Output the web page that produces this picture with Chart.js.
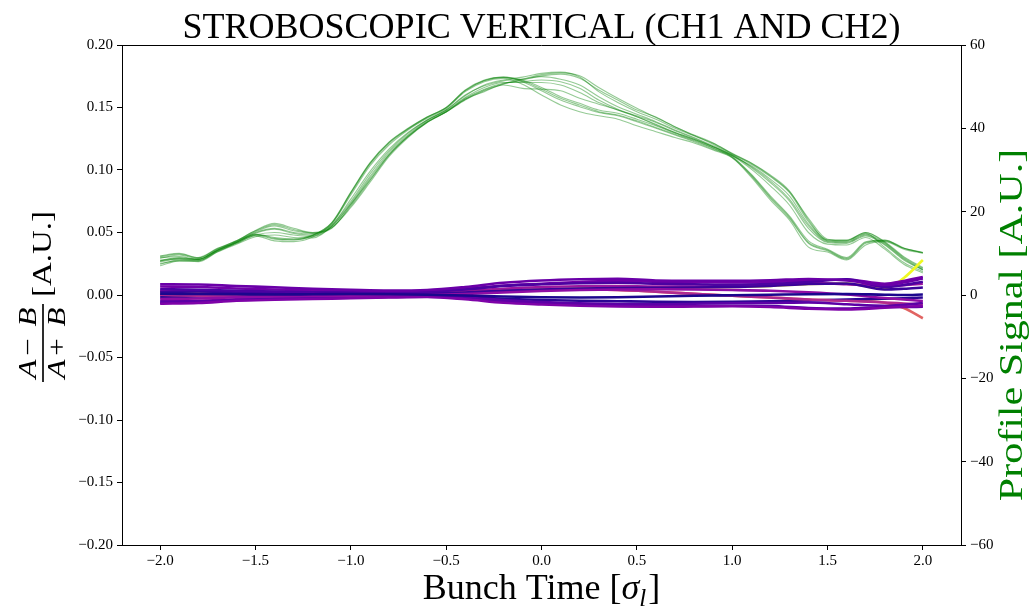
<!DOCTYPE html>
<html>
<head>
<meta charset="utf-8">
<script src="https://cdn.jsdelivr.net/npm/chart.js@4/dist/chart.umd.min.js"></script>
<style>
  html, body { margin: 0; padding: 0; background: #fff; }
  #wrap { width: 1032px; height: 607px; }
</style>
</head>
<body>
<div id="wrap"><canvas id="strobo"></canvas></div>
<script>
const SERIF = '"Liberation Serif", "Times New Roman", serif';

// bunch time grids (sigma_l)
const timeFine = [-2.0, -1.9, -1.8, -1.7, -1.6, -1.5, -1.4, -1.3, -1.2, -1.1, -1.0, -0.9, -0.8, -0.7, -0.6, -0.5, -0.4, -0.3, -0.2, -0.1,
  0.0, 0.1, 0.2, 0.3, 0.4, 0.5, 0.6, 0.7, 0.8, 0.9, 1.0, 1.1, 1.2, 1.3, 1.4, 1.5, 1.6, 1.7, 1.8, 1.9, 2.0];
const timeCoarse = [-2.0, -1.8, -1.6, -1.4, -1.2, -1.0, -0.8, -0.6, -0.4, -0.2, 0.0, 0.2, 0.4, 0.6, 0.8, 1.0, 1.2, 1.4, 1.6, 1.8, 1.9, 2.0];

const timeTicks = [-2.0, -1.5, -1.0, -0.5, 0.0, 0.5, 1.0, 1.5, 2.0];
const deltaTicks = [-0.20, -0.15, -0.10, -0.05, 0.00, 0.05, 0.10, 0.15, 0.20];
const profileTicks = [-60, -40, -20, 0, 20, 40, 60];

// profile signal traces (right axis)
const profileA1 = [8.0, 8.6, 8.4, 10.6, 12.6, 14.4, 13.4, 13.2, 14.2, 17.2, 24.4, 31.4, 36.4, 39.8, 42.6, 44.9, 49.0, 51.4, 52.2, 51.2, 49.0, 46.8, 45.2, 43.8, 43.0, 41.6, 40.0, 38.4, 36.8, 35.0, 33.0, 28.6, 23.2, 18.4, 12.4, 10.6, 8.6, 12.4, 13.0, 11.2, 10.2];
const profileA2 = [7.6, 8.2, 8.2, 10.4, 12.4, 14.2, 13.0, 12.8, 13.9, 17.0, 24.0, 31.0, 36.0, 39.6, 42.4, 44.7, 48.8, 51.2, 52.0, 50.6, 48.0, 45.6, 44.0, 43.0, 42.2, 40.6, 39.2, 37.8, 36.5, 34.8, 32.9, 28.3, 22.8, 18.0, 11.5, 10.3, 8.4, 12.0, 12.8, 11.0, 10.0];
const profileA3 = [8.4, 8.8, 8.6, 10.8, 12.7, 14.6, 13.8, 13.5, 14.4, 17.4, 24.7, 31.7, 36.7, 40.0, 42.7, 45.0, 49.2, 51.6, 52.3, 51.6, 49.8, 47.6, 46.0, 44.4, 43.6, 42.2, 40.6, 38.8, 37.2, 35.3, 33.2, 29.0, 23.8, 19.0, 13.0, 11.0, 9.0, 12.8, 13.2, 11.3, 10.2];
const profileA4 = [8.2, 8.7, 8.5, 10.7, 12.6, 14.5, 13.6, 13.3, 14.3, 17.3, 24.6, 31.6, 36.6, 39.9, 42.7, 45.0, 49.1, 51.5, 52.3, 51.4, 49.4, 47.2, 45.6, 44.0, 43.2, 41.8, 40.2, 38.6, 37.0, 35.2, 33.1, 28.8, 23.5, 18.7, 12.6, 10.8, 8.8, 12.6, 13.1, 11.2, 10.1];
const profileB1 = [9.4, 10.0, 9.0, 11.2, 13.0, 15.5, 17.2, 16.0, 15.0, 16.2, 21.0, 27.0, 33.2, 37.8, 41.4, 43.9, 46.8, 49.0, 50.6, 51.6, 52.6, 53.0, 52.0, 49.2, 46.8, 44.4, 42.7, 40.3, 38.4, 36.5, 34.0, 31.7, 28.8, 25.0, 18.0, 13.2, 13.2, 15.0, 12.6, 9.0, 6.4];
const profileB2 = [7.0, 8.2, 8.0, 10.3, 12.2, 14.0, 14.4, 13.8, 13.7, 16.6, 23.0, 29.6, 35.0, 39.0, 42.0, 44.4, 48.0, 50.2, 51.4, 51.8, 52.4, 51.8, 50.4, 47.6, 45.2, 43.4, 41.6, 39.6, 37.8, 35.8, 33.6, 30.6, 27.0, 22.6, 16.0, 12.6, 12.4, 14.2, 12.0, 8.4, 6.0];
const profileB3 = [8.8, 9.6, 8.8, 11.0, 12.9, 15.2, 16.6, 15.4, 14.8, 16.0, 21.6, 28.0, 33.8, 38.2, 41.6, 44.0, 47.2, 49.4, 50.8, 51.2, 51.6, 51.2, 49.6, 46.8, 44.6, 43.0, 41.4, 39.4, 37.6, 35.6, 33.4, 31.0, 27.8, 23.8, 17.0, 13.0, 12.8, 14.6, 12.4, 8.8, 6.2];
const profileB4 = [9.0, 9.2, 8.6, 10.8, 12.8, 15.0, 16.0, 15.0, 14.6, 16.8, 22.4, 29.0, 34.6, 38.8, 42.0, 44.4, 47.8, 50.4, 51.6, 52.3, 53.2, 53.5, 52.3, 48.8, 46.2, 44.0, 42.2, 40.0, 38.2, 36.2, 33.8, 31.4, 28.4, 24.6, 17.6, 13.2, 13.0, 14.8, 11.4, 7.8, 5.6];
const profileB5 = [7.4, 8.4, 8.2, 10.5, 12.4, 14.4, 15.0, 14.4, 14.0, 16.4, 21.8, 27.6, 33.6, 38.0, 41.4, 44.0, 47.0, 48.8, 50.4, 49.6, 49.4, 49.0, 47.2, 45.8, 44.4, 42.8, 41.0, 39.0, 37.4, 35.6, 33.4, 30.2, 26.2, 21.6, 15.0, 12.2, 12.0, 13.8, 11.0, 7.4, 5.3];
const profileB6 = [8.2, 9.0, 8.5, 10.7, 12.6, 14.8, 15.8, 14.8, 14.3, 16.5, 22.0, 28.4, 34.2, 38.4, 41.8, 44.2, 47.4, 49.8, 51.0, 51.0, 51.0, 50.4, 48.6, 46.2, 44.4, 42.8, 40.8, 39.0, 37.4, 35.6, 33.6, 30.8, 27.4, 23.0, 16.6, 12.8, 12.6, 14.4, 12.2, 8.6, 6.0];
const profileB7 = [9.2, 9.8, 8.9, 11.1, 13.0, 15.4, 16.9, 15.7, 14.9, 16.1, 21.3, 27.4, 33.5, 38.0, 41.5, 43.9, 47.0, 49.2, 50.7, 51.8, 52.9, 53.3, 52.6, 49.8, 47.2, 44.8, 42.6, 40.4, 38.3, 36.4, 33.9, 31.6, 28.6, 24.8, 18.4, 13.4, 13.1, 15.0, 12.8, 9.2, 6.6];

// (A-B)/(A+B) traces (left axis)
const delta01 = [0.0010, 0.0008, 0.0006, 0.0004, 0.0006, 0.0008, 0.0006, 0.0002, -0.0004, -0.0012, -0.0018, -0.0020, -0.0018, -0.0012, -0.0006, -0.0002, 0.0002, 0.0006, 0.0008, 0.0002, 0.0000, 0.0004];
const delta02 = [0.0086, 0.0084, 0.0072, 0.0062, 0.0050, 0.0042, 0.0036, 0.0040, 0.0064, 0.0098, 0.0116, 0.0126, 0.0130, 0.0116, 0.0114, 0.0114, 0.0118, 0.0128, 0.0116, 0.0080, 0.0100, 0.0132];
const delta03 = [-0.0070, -0.0064, -0.0046, -0.0038, -0.0032, -0.0026, -0.0020, -0.0016, -0.0034, -0.0062, -0.0076, -0.0086, -0.0092, -0.0094, -0.0092, -0.0090, -0.0096, -0.0110, -0.0116, -0.0102, -0.0094, -0.0088];
const delta04 = [0.0046, 0.0042, 0.0034, 0.0028, 0.0022, 0.0020, 0.0016, 0.0024, 0.0044, 0.0072, 0.0086, 0.0094, 0.0098, 0.0090, 0.0086, 0.0082, 0.0088, 0.0104, 0.0126, 0.0064, 0.0080, 0.0106];
const delta05 = [-0.0032, -0.0028, -0.0018, -0.0012, -0.0008, -0.0006, -0.0004, 0.0000, 0.0008, 0.0020, 0.0032, 0.0040, 0.0044, 0.0046, 0.0044, 0.0040, 0.0034, 0.0022, 0.0004, -0.0024, -0.0036, -0.0048];
const delta06 = [0.0024, 0.0028, 0.0022, 0.0018, 0.0014, 0.0012, 0.0010, 0.0012, 0.0020, 0.0034, 0.0044, 0.0052, 0.0056, 0.0058, 0.0060, 0.0064, 0.0072, 0.0088, 0.0092, 0.0044, 0.0050, 0.0060];
const delta07 = [-0.0050, -0.0046, -0.0034, -0.0026, -0.0022, -0.0018, -0.0012, -0.0010, -0.0020, -0.0040, -0.0056, -0.0066, -0.0072, -0.0074, -0.0070, -0.0066, -0.0064, -0.0060, -0.0074, -0.0086, -0.0078, -0.0064];
const delta08 = [0.0002, -0.0006, -0.0010, -0.0006, 0.0002, 0.0008, 0.0012, 0.0018, 0.0026, 0.0036, 0.0042, 0.0046, 0.0040, 0.0026, 0.0010, -0.0006, -0.0020, -0.0036, -0.0046, -0.0060, -0.0068, -0.0076];
const delta09 = [0.0068, 0.0064, 0.0052, 0.0044, 0.0038, 0.0032, 0.0028, 0.0030, 0.0050, 0.0076, 0.0090, 0.0104, 0.0114, 0.0106, 0.0102, 0.0100, 0.0104, 0.0116, 0.0124, 0.0090, 0.0112, 0.0144];
const delta10 = [-0.0018, -0.0012, -0.0004, 0.0002, 0.0004, 0.0002, -0.0002, -0.0006, -0.0016, -0.0030, -0.0040, -0.0046, -0.0050, -0.0054, -0.0056, -0.0054, -0.0050, -0.0044, -0.0036, -0.0030, -0.0026, -0.0020];
const delta11 = [0.0034, 0.0030, 0.0026, 0.0024, 0.0026, 0.0026, 0.0022, 0.0026, 0.0034, 0.0050, 0.0064, 0.0070, 0.0072, 0.0068, 0.0068, 0.0072, 0.0080, 0.0096, 0.0086, 0.0070, 0.0078, 0.0090];
const delta12 = [-0.0062, -0.0056, -0.0040, -0.0032, -0.0026, -0.0022, -0.0016, -0.0014, -0.0028, -0.0052, -0.0068, -0.0078, -0.0086, -0.0090, -0.0088, -0.0086, -0.0088, -0.0104, -0.0108, -0.0096, -0.0096, -0.0094];
const delta13 = [0.0002, -0.0006, -0.0010, -0.0006, 0.0002, 0.0008, 0.0012, 0.0018, 0.0026, 0.0036, 0.0042, 0.0046, 0.0040, 0.0026, 0.0010, -0.0006, -0.0020, -0.0036, -0.0046, -0.0062, -0.0104, -0.0186];
const delta14 = [0.0024, 0.0028, 0.0022, 0.0018, 0.0014, 0.0012, 0.0010, 0.0012, 0.0020, 0.0034, 0.0044, 0.0052, 0.0056, 0.0058, 0.0060, 0.0064, 0.0072, 0.0088, 0.0092, 0.0048, 0.0136, 0.0280];

// plasma colours per channel trace; the last two sit underneath the rest
const deltaSeries = [
  [delta01, '#1b068d'], [delta02, '#6a00a8'], [delta03, '#7e03a8'], [delta04, '#4c02a1'],
  [delta05, '#8f0da4'], [delta06, '#3a049a'], [delta07, '#5c01a6'], [delta08, '#b12a90'],
  [delta09, '#7201a8'], [delta10, '#2c0594'], [delta11, '#9c179e'], [delta12, '#5402a3'],
  [delta13, '#e16462'], [delta14, '#f0f921']
];
const profileSeries = [profileA1, profileA2, profileA3, profileA4, profileB1, profileB2, profileB3, profileB4, profileB5, profileB6, profileB7];

const minus = s => s.replace('-', '\u2212');

const datasets = [];
deltaSeries.forEach(([vals, col]) => {
  datasets.push({
    data: timeCoarse.map((t, i) => ({ x: t, y: vals[i] })),
    yAxisID: 'y',
    borderColor: col,
    borderWidth: 2.6,
    pointRadius: 0,
    cubicInterpolationMode: 'monotone'
  });
});
profileSeries.forEach(vals => {
  datasets.push({
    data: timeFine.map((t, i) => ({ x: t, y: vals[i] })),
    yAxisID: 'y1',
    borderColor: 'rgba(0, 128, 0, 0.42)',
    borderWidth: 1.1,
    pointRadius: 0,
    cubicInterpolationMode: 'monotone'
  });
});

// draws a row of differently styled text pieces centred on cx
function drawRuns(ctx, runs, cx, y) {
  let total = 0;
  runs.forEach(r => { ctx.font = r.font; r.w = ctx.measureText(r.text).width + (r.gap || 0); total += r.w; });
  let x = cx - total / 2;
  ctx.textAlign = 'left';
  runs.forEach(r => { ctx.font = r.font; ctx.fillText(r.text, x, y + (r.dy || 0)); x += r.w; });
}

const labelsPlugin = {
  id: 'figureText',
  afterDraw(chart) {
    const { ctx, chartArea: a } = chart;
    const cx = (a.left + a.right) / 2;
    ctx.save();
    // top spine
    ctx.strokeStyle = '#000';
    ctx.lineWidth = 1;
    ctx.beginPath();
    ctx.moveTo(a.left, a.top + 0.5);
    ctx.lineTo(a.right, a.top + 0.5);
    ctx.stroke();

    ctx.fillStyle = '#000';
    ctx.textBaseline = 'alphabetic';
    ctx.textAlign = 'center';
    ctx.font = '36px ' + SERIF;
    ctx.fillText('STROBOSCOPIC VERTICAL (CH1 AND CH2)', cx, 38);

    drawRuns(ctx, [
      { text: 'Bunch Time [', font: '36px ' + SERIF },
      { text: '\u03c3', font: 'italic 36px ' + SERIF },
      { text: 'l', font: 'italic 25px ' + SERIF, dy: 7, gap: 2 },
      { text: ']', font: '36px ' + SERIF }
    ], cx, 599);

    // left label: (A-B)/(A+B) [A.U.]
    ctx.save();
    ctx.translate(43, 295);
    ctx.rotate(-Math.PI / 2);
    ctx.scale(1, 0.82);
    ctx.textAlign = 'center';
    ctx.font = 'italic 31px ' + SERIF;
    ctx.fillText('A', -74, -9);
    ctx.fillText('B', -22, -9);
    ctx.fillText('A', -74, 27);
    ctx.fillText('B', -22, 27);
    ctx.font = '31px ' + SERIF;
    ctx.fillText('\u2212', -52, -9);
    ctx.fillText('+', -52, 27);
    ctx.fillRect(-87, -1, 78, 2);
    ctx.font = '33px ' + SERIF;
    ctx.fillText('[A.U.]', 41, 10);
    ctx.restore();

    // right label
    ctx.save();
    ctx.translate(1012, 325);
    ctx.rotate(-Math.PI / 2);
    ctx.scale(1, 0.78);
    ctx.textAlign = 'center';
    ctx.fillStyle = '#008000';
    ctx.font = '42px ' + SERIF;
    ctx.fillText('Profile Signal [A.U.]', 0, 13);
    ctx.restore();

    ctx.restore();
  }
};

const axisLook = {
  grid: { drawOnChartArea: false, drawTicks: true, tickLength: 5, color: '#000', lineWidth: 1 },
  border: { display: true, color: '#000', width: 1 }
};

new Chart(document.getElementById('strobo'), {
  type: 'line',
  data: { datasets },
  plugins: [labelsPlugin],
  options: {
    responsive: true,
    maintainAspectRatio: false,
    animation: false,
    layout: { padding: { top: 45, left: 0, right: 0, bottom: 0 } },
    plugins: { legend: { display: false }, tooltip: { enabled: false }, title: { display: false } },
    scales: {
      x: {
        type: 'linear',
        min: -2.2,
        max: 2.2,
        ...axisLook,
        afterBuildTicks: s => { s.ticks = timeTicks.map(v => ({ value: v })); },
        afterFit: s => { s.height = 62; },
        ticks: {
          color: '#000',
          font: { family: SERIF, size: 15 },
          padding: 2,
          maxRotation: 0,
          callback: v => minus(v.toFixed(1))
        }
      },
      y: {
        type: 'linear',
        position: 'left',
        min: -0.2,
        max: 0.2,
        ...axisLook,
        afterBuildTicks: s => { s.ticks = deltaTicks.map(v => ({ value: v })); },
        afterFit: s => { s.width = 122; },
        ticks: {
          color: '#000',
          font: { family: SERIF, size: 15 },
          padding: 4,
          callback: v => minus(v.toFixed(2))
        }
      },
      y1: {
        type: 'linear',
        position: 'right',
        min: -60,
        max: 60,
        ...axisLook,
        afterBuildTicks: s => { s.ticks = profileTicks.map(v => ({ value: v })); },
        afterFit: s => { s.width = 71; },
        ticks: {
          color: '#000',
          font: { family: SERIF, size: 15 },
          padding: 4,
          callback: v => minus(String(v))
        }
      }
    }
  }
});
</script>
</body>
</html>
